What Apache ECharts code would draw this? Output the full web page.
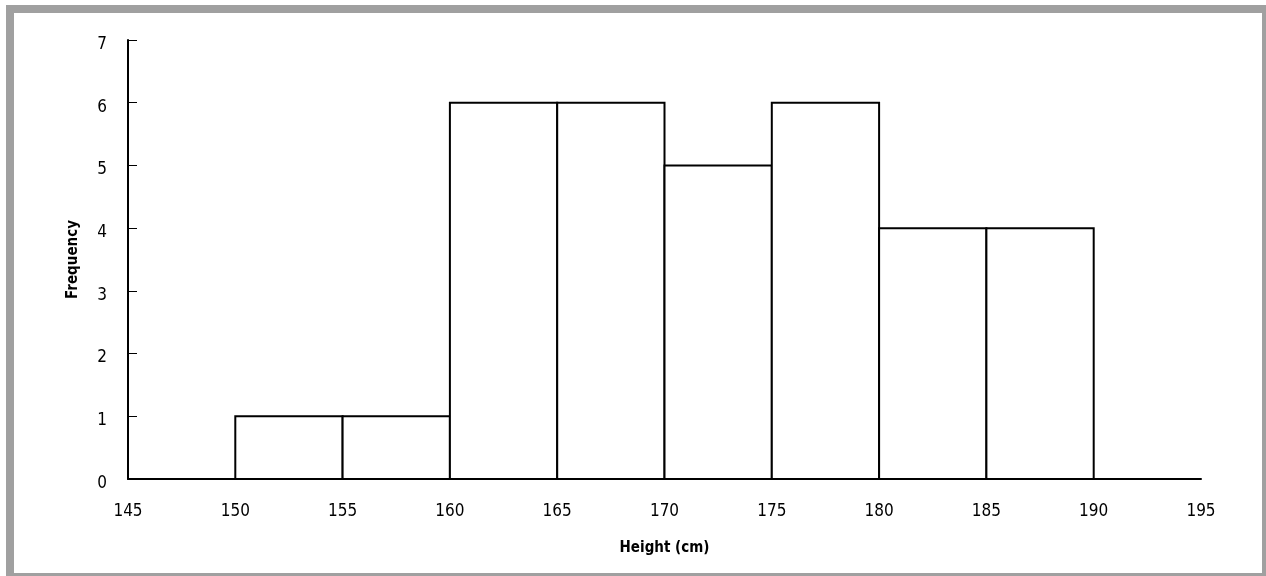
<!DOCTYPE html>
<html><head><meta charset="utf-8">
<script src="https://cdn.jsdelivr.net/npm/echarts@6/dist/echarts.min.js"></script>
<style>html,body{margin:0;padding:0;background:#fff}#c{width:1266px;height:576px}</style>
</head><body><div id="c"></div>
<script>
const binStarts = [150, 155, 160, 165, 170, 175, 180, 185];
const binEnds = [155, 160, 165, 170, 175, 180, 185, 190];
const frequencies = [1, 1, 6, 6, 5, 6, 4, 4];
const xTicks = [145, 150, 155, 160, 165, 170, 175, 180, 185, 190, 195];
const yTicks = [0, 1, 2, 3, 4, 5, 6, 7];

const FONT = "'Liberation Sans Narrow', 'DejaVu Sans Condensed', 'Arial Narrow', sans-serif";
const chart = echarts.init(document.getElementById('c'));
const data = binStarts.map((s, i) => [s, binEnds[i], frequencies[i]]);
chart.setOption({
  animation: false,
  backgroundColor: '#fff',
  graphic: [{
    type: 'rect', shape: {x: 10, y: 9, width: 1256, height: 568},
    style: {fill: 'none', stroke: '#a0a0a0', lineWidth: 8}, z: 100
  }],
  grid: {left: 128, right: 65, top: 40, bottom: 97},
  xAxis: {
    type: 'value', min: xTicks[0], max: xTicks[xTicks.length - 1], interval: 5,
    name: 'Height (cm)', nameLocation: 'middle', nameGap: 62,
    nameTextStyle: {fontFamily: FONT, fontWeight: 'bold', fontSize: 15, color: '#000'},
    axisLine: {lineStyle: {color: '#000', width: 2}},
    axisTick: {show: false},
    splitLine: {show: false},
    axisLabel: {fontFamily: FONT, fontSize: 17, color: '#000', margin: 24}
  },
  yAxis: {
    type: 'value', min: yTicks[0], max: yTicks[yTicks.length - 1], interval: 1,
    name: 'Frequency', nameLocation: 'middle', nameGap: 47, nameRotate: 90,
    nameTextStyle: {fontFamily: FONT, fontWeight: 'bold', fontSize: 15, color: '#000'},
    axisLine: {show: true, lineStyle: {color: '#000', width: 2}},
    axisTick: {show: true, inside: true, length: 9, lineStyle: {color: '#000', width: 1}},
    splitLine: {show: false},
    axisLabel: {fontFamily: FONT, fontSize: 17, color: '#000', margin: 21, verticalAlign: 'top', lineHeight: 9}
  },
  series: [{
    type: 'custom',
    data: data,
    encode: {x: [0, 1], y: 2},
    renderItem: function (params, api) {
      const p0 = api.coord([api.value(0), 0]);
      const p1 = api.coord([api.value(1), api.value(2)]);
      return {
        type: 'rect',
        shape: {x: p0[0], y: p1[1], width: p1[0] - p0[0], height: p0[1] - p1[1]},
        style: {fill: '#fff', stroke: '#000', lineWidth: 2}
      };
    }
  }]
});
</script></body></html>
